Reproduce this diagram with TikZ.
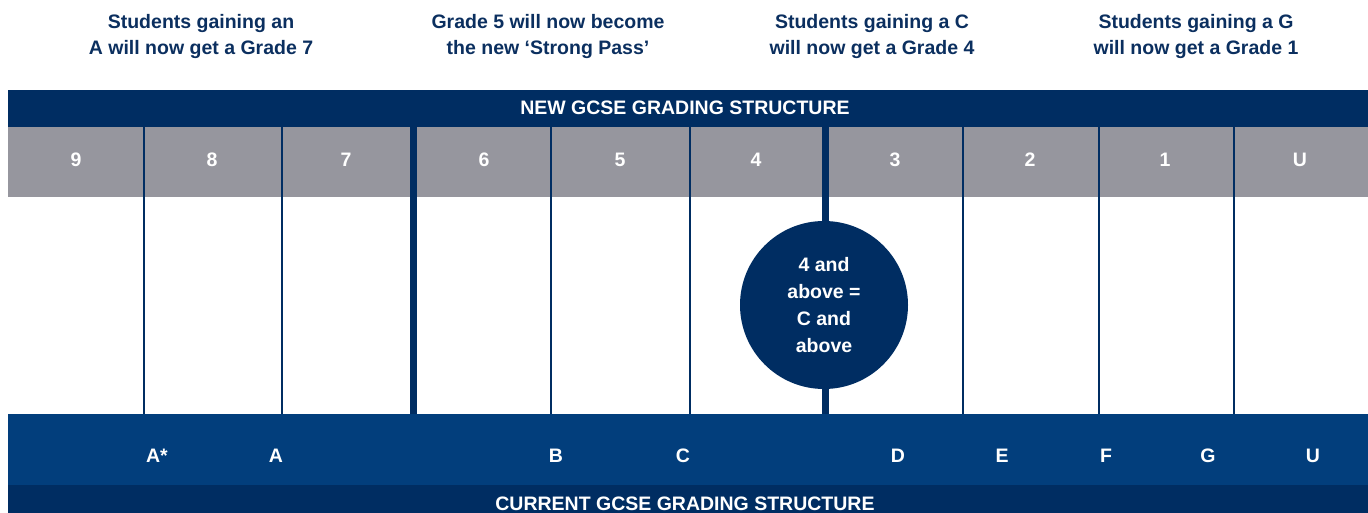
\documentclass[tikz,border=0pt]{standalone}
\usepackage{fontspec}
\setmainfont{Liberation Sans}
\definecolor{navy}{HTML}{002D62}
\definecolor{bandblue}{HTML}{023E7C}
\definecolor{bandgrey}{HTML}{96969E}
\definecolor{headtxt}{HTML}{0B2F5F}
\tikzset{
  lbl/.style={font=\fontsize{19.5}{26.5}\selectfont\bfseries, text=white, inner sep=0pt, anchor=base},
  head/.style={font=\fontsize{19.5}{26}\selectfont\bfseries, text=headtxt, inner sep=0pt, anchor=base},
  thinline/.style={draw=navy, line width=2.7pt},
  thickline/.style={draw=navy, line width=7pt},
}
\begin{document}
\begin{tikzpicture}[x=1pt,y=-1pt]
\useasboundingbox (0,0) rectangle (1368,513);
% bands
\fill[navy] (8,90) rectangle (1368,127);
\fill[bandgrey] (8,127) rectangle (1368,197);
\fill[bandblue] (8,414) rectangle (1368,485);
\fill[navy] (8,485) rectangle (1368,513);
% header texts
\node[head] (h1a) at (201,29) {Students gaining an};
\node[head] (h1b) at (201,55) {A will now get a Grade 7};
\node[head] (h2a) at (548,29) {Grade 5 will now become};
\node[head] (h2b) at (548,55) {the new ‘Strong Pass’};
\node[head] (h3a) at (872,29) {Students gaining a C};
\node[head] (h3b) at (872,55) {will now get a Grade 4};
\node[head] (h4a) at (1196,29) {Students gaining a G};
\node[head] (h4b) at (1196,55) {will now get a Grade 1};
% bar titles
\node[lbl] (newtitle) at (685,115) {NEW GCSE GRADING STRUCTURE};
\node[lbl] (curtitle) at (685,510) {CURRENT GCSE GRADING STRUCTURE};
% column dividers
\foreach \x/\n in {144/a,282/b,551/d,690/e,963/g,1099/h,1234/i}{
  \coordinate (t\n) at (\x,127);
  \coordinate (b\n) at (\x,414);
  \draw[thinline] (t\n) -- (b\n);
}
\foreach \x/\n in {413/c,825.5/f}{
  \coordinate (t\n) at (\x,127);
  \coordinate (b\n) at (\x,414);
  \draw[thickline] (t\n) -- (b\n);
}
% new grades
\foreach \x/\g/\n in {76/9/n9,212/8/n8,346/7/n7,484/6/n6,620/5/n5,756/4/n4,895/3/n3,1030/2/n2,1165/1/n1,1300/U/nU}{
  \node[lbl] (\n) at (\x,167) {\g};
}
% current grades
\foreach \x/\g/\n in {157/A*/cAs,276/A/cA,556/B/cB,683/C/cC,898/D/cD,1002/E/cE,1106/F/cF,1208/G/cG,1313/U/cU}{
  \node[lbl] (\n) at (\x,462) {\g};
}
% circle
\node[circle, fill=navy, minimum size=168pt, inner sep=0pt] (circ) at (824,305) {};
\node[font=\fontsize{19.5}{26.7}\selectfont\bfseries, text=white, align=center, inner sep=0pt] (circtxt) at (824,305) {4 and\\above =\\C and\\above};
\end{tikzpicture}
\end{document}
